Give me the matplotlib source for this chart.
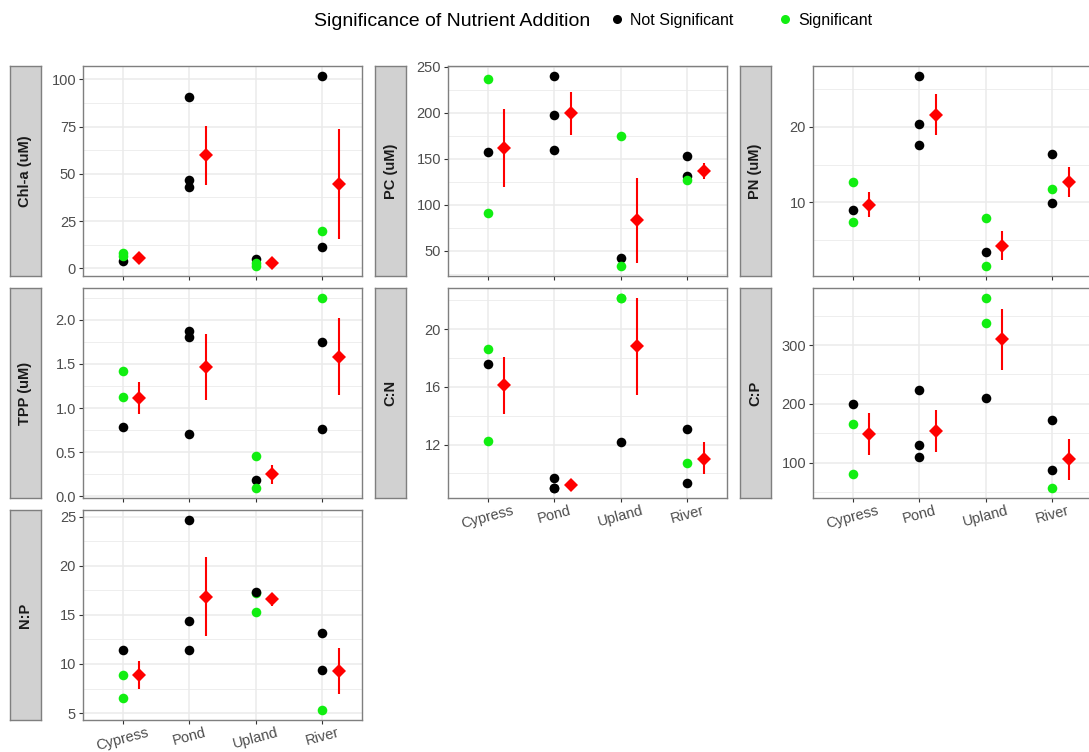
import numpy as np
import matplotlib
matplotlib.use("Agg")
import matplotlib.pyplot as plt
from matplotlib.ticker import MultipleLocator, AutoMinorLocator
from matplotlib.lines import Line2D

plt.rcParams['font.family'] = ['Liberation Sans', 'DejaVu Sans']

sites = ["Cypress", "Pond", "Upland", "River"]
panels = ["Chl-a (uM)", "PC (uM)", "PN (uM)", "TPP (uM)", "C:N", "C:P", "N:P"]
tick_steps = [25, 50, 10, 0.5, 4, 100, 5]
legend_labels = ["Not Significant", "Significant"]

# per panel, per site: individual values and significance (1 = significant)
vals = {
    "Chl-a (uM)": [[4.0, 6.5, 8.0], [90.7, 46.5, 42.8], [5.1, 1.0, 2.8], [102.0, 20.0, 11.4]],
    "PC (uM)": [[157.7, 236.5, 90.7], [240.6, 198.1, 159.2], [41.7, 175.0, 33.0], [153.0, 131.0, 126.5]],
    "PN (uM)": [[9.0, 12.7, 7.4], [26.8, 20.4, 17.6], [3.4, 7.9, 1.5], [16.4, 11.8, 9.9]],
    "TPP (uM)": [[0.79, 1.42, 1.13], [1.87, 1.80, 0.71], [0.19, 0.46, 0.09], [1.75, 2.25, 0.76]],
    "C:N": [[17.56, 18.6, 12.23], [9.7, 8.97, 8.95], [12.14, 22.2, 22.15], [13.05, 10.7, 9.3]],
    "C:P": [[200.0, 166.0, 80.3], [222.8, 129.9, 110.1], [209.9, 381.0, 338.3], [172.7, 87.6, 56.0]],
    "N:P": [[11.4, 8.9, 6.5], [24.7, 14.4, 11.4], [15.25, 17.2, 17.3], [13.2, 9.35, 5.27]],
}
sig = {
    "Chl-a (uM)": [[0, 1, 1], [0, 0, 0], [0, 1, 1], [0, 1, 0]],
    "PC (uM)": [[0, 1, 1], [0, 0, 0], [0, 1, 1], [0, 0, 1]],
    "PN (uM)": [[0, 1, 1], [0, 0, 0], [0, 1, 1], [0, 1, 0]],
    "TPP (uM)": [[0, 1, 1], [0, 0, 0], [0, 1, 1], [0, 1, 0]],
    "C:N": [[0, 1, 1], [0, 0, 0], [0, 1, 1], [0, 1, 0]],
    "C:P": [[0, 1, 1], [0, 0, 0], [0, 1, 1], [0, 0, 1]],
    "N:P": [[0, 1, 1], [0, 0, 0], [1, 1, 0], [0, 0, 1]],
}
# mean and error bar limits read from the red diamonds
means = {
    "Chl-a (uM)": [5.5, 60.0, 3.0, 44.5],
    "PC (uM)": [161.4, 199.5, 83.2, 136.5],
    "PN (uM)": [9.7, 21.6, 4.25, 12.7],
    "TPP (uM)": [1.11, 1.46, 0.25, 1.58],
    "C:N": [16.14, 9.2, 18.83, 11.0],
    "C:P": [148.5, 154.6, 309.6, 105.6],
    "N:P": [8.92, 16.8, 16.57, 9.25],
}
lows = {
    "Chl-a (uM)": [4.6, 44.3, 2.0, 15.3],
    "PC (uM)": [119.5, 176.1, 36.7, 128.6],
    "PN (uM)": [8.07, 18.9, 2.32, 10.75],
    "TPP (uM)": [0.93, 1.09, 0.146, 1.144],
    "C:N": [14.14, 8.95, 15.45, 9.93],
    "C:P": [113.0, 118.6, 258.3, 70.7],
    "N:P": [7.5, 12.82, 15.9, 6.92],
}
highs = {
    "Chl-a (uM)": [6.4, 75.4, 4.0, 73.7],
    "PC (uM)": [204.2, 223.0, 129.6, 145.0],
    "PN (uM)": [11.36, 24.4, 6.18, 14.7],
    "TPP (uM)": [1.30, 1.836, 0.359, 2.02],
    "C:N": [18.09, 9.45, 22.18, 12.14],
    "C:P": [184.5, 189.6, 360.8, 140.6],
    "N:P": [10.33, 20.89, 17.18, 11.61],
}

W, H = 1089, 752
fig = plt.figure(figsize=(W / 100, H / 100), dpi=100)

grid_c = '#EBEBEB'
border_c = '#7F7F7F'
green = '#11EE11'

def fx(px):
    return px / W

def fy(py):
    return 1 - py / H

for k, name in enumerate(panels):
    r, c = divmod(k, 3)
    top = 66 + 222 * r
    ph = 210
    left = 83 + 365 * c
    ax = fig.add_axes([fx(left), fy(top + ph), fx(279), ph / H])
    sx = fig.add_axes([fx(10 + 365 * c), fy(top + ph), fx(31), ph / H])

    x = np.arange(len(sites))
    for i in range(len(sites)):
        for v, s in zip(vals[name][i], sig[name][i]):
            ax.scatter(i, v, s=48, color=green if s else 'black', zorder=3, linewidths=0)
    m = np.array(means[name])
    lo = np.array(lows[name])
    hi = np.array(highs[name])
    ax.errorbar(x + 0.25, m, yerr=[m - lo, hi - m], fmt='D', color='red', ms=7,
                mew=0, elinewidth=1.5, capsize=1.6, capthick=1.5, zorder=4)

    ax.set_xlim(-0.6, 3.6)
    ax.margins(y=0.05)
    ax.yaxis.set_major_locator(MultipleLocator(tick_steps[k]))
    ax.yaxis.set_minor_locator(AutoMinorLocator(2))
    ax.set_xticks(x)
    ax.grid(True, which='major', color=grid_c, lw=1.1, zorder=0)
    ax.grid(True, which='minor', axis='y', color=grid_c, lw=0.6, zorder=0)
    ax.set_axisbelow(True)
    ax.tick_params(which='minor', length=0)
    ax.tick_params(which='major', length=3, width=0.8, color='#333333',
                   labelsize=10.5, labelcolor='#4D4D4D', pad=2)
    ax.tick_params(axis='x', pad=1)
    for sp in ax.spines.values():
        sp.set_color(border_c)
        sp.set_linewidth(1.0)
    if k in (4, 5, 6):
        ax.set_xticklabels(sites, rotation=15)
    else:
        ax.tick_params(axis='x', labelbottom=False)
    if name == "TPP (uM)":
        ax.yaxis.set_major_formatter(plt.FormatStrFormatter('%.1f'))

    sx.set_facecolor('#D1D1D1')
    sx.set_xticks([])
    sx.set_yticks([])
    for sp in sx.spines.values():
        sp.set_color(border_c)
        sp.set_linewidth(1.0)
    sx.text(0.5, 0.5, name, rotation=90, ha='center', va='center',
            fontsize=10.5, fontweight='bold', color='#1A1A1A', transform=sx.transAxes)

# legend drawn by hand across the top
fig.text(fx(590), fy(19), "Significance of Nutrient Addition", ha='right', va='center_baseline',
         fontsize=14, color='black')
for lab, col, px in zip(legend_labels, ['black', green], [617, 785]):
    fig.add_artist(Line2D([fx(px)], [fy(19)], ls='', marker='o', color=col, ms=6.5,
                          mew=0, transform=fig.transFigure))
    fig.text(fx(px + 13), fy(19), lab, ha='left', va='center_baseline', fontsize=11.5,
             color='black')

fig.savefig("out.png", dpi=100)
